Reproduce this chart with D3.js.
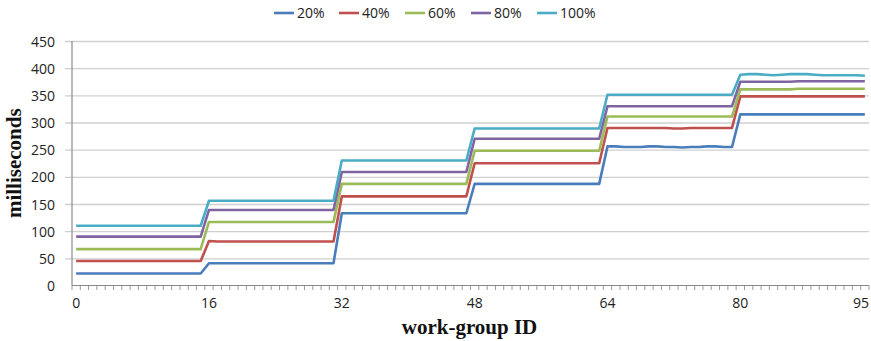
<!DOCTYPE html>
<html>
<head>
<meta charset="utf-8">
<script src="https://cdn.jsdelivr.net/npm/d3@7"></script>
<style>
  html, body { margin: 0; padding: 0; background: #fff; }
  svg { display: block; }
</style>
</head>
<body>
<svg id="chart" width="871" height="341"></svg>
<script>
// Work-group IDs 0..95
const workGroups = d3.range(96);

const seriesNames = ["20%", "40%", "60%", "80%", "100%"];
const seriesColors = ["#4A7EBB", "#C0504D", "#9BBB59", "#8064A2", "#4BACC6"];

// Execution time (milliseconds) per work-group, one array per series
const ms20 = [
  22,22,22,22,22,22,22,22,22,22,22,22,22,22,22,22,
  41,41,41,41,41,41,41,41,41,41,41,41,41,41,41,41,
  133,133,133,133,133,133,133,133,133,133,133,133,133,133,133,133,
  187,187,187,187,187,187,187,187,187,187,187,187,187,187,187,187,
  256,256,255,255,255,256,256,255,255,254,255,255,256,256,255,255,
  315,315,315,315,315,315,315,315,315,315,315,315,315,315,315,315
];
const ms40 = [
  45,45,45,45,45,45,45,45,45,45,45,45,45,45,45,45,
  82,81,81,81,81,81,81,81,81,81,81,81,81,81,81,81,
  164,164,164,164,164,164,164,164,164,164,164,164,164,164,164,164,
  225,225,225,225,225,225,225,225,225,225,225,225,225,225,225,225,
  290,290,290,290,290,290,290,290,289,289,290,290,290,290,290,290,
  348,348,348,348,348,348,348,348,348,348,348,348,348,348,348,348
];
const ms60 = [
  67,67,67,67,67,67,67,67,67,67,67,67,67,67,67,67,
  117,117,117,117,117,117,117,117,117,117,117,117,117,117,117,117,
  187,187,187,187,187,187,187,187,187,187,187,187,187,187,187,187,
  248,248,248,248,248,248,248,248,248,248,248,248,248,248,248,248,
  311,311,311,311,311,311,311,311,311,311,311,311,311,311,311,311,
  361,361,361,361,361,361,361,362,362,362,362,362,362,362,362,362
];
const ms80 = [
  90,90,90,90,90,90,90,90,90,90,90,90,90,90,90,90,
  139,139,139,139,139,139,139,139,139,139,139,139,139,139,139,139,
  209,209,209,209,209,209,209,209,209,209,209,209,209,209,209,209,
  270,270,270,270,270,270,270,270,270,270,270,270,270,270,270,270,
  330,330,330,330,330,330,330,330,330,330,330,330,330,330,330,330,
  375,375,375,375,375,375,375,376,376,376,376,376,376,376,376,376
];
const ms100 = [
  110,110,110,110,110,110,110,110,110,110,110,110,110,110,110,110,
  156,156,156,156,156,156,156,156,156,156,156,156,156,156,156,156,
  230,230,230,230,230,230,230,230,230,230,230,230,230,230,230,230,
  289,289,289,289,289,289,289,289,289,289,289,289,289,289,289,289,
  351,351,351,351,351,351,351,351,351,351,351,351,351,351,351,351,
  388,389,389,388,387,388,389,389,389,388,387,387,387,387,387,386
];
const seriesValues = [ms20, ms40, ms60, ms80, ms100];

const yTicks = [0, 50, 100, 150, 200, 250, 300, 350, 400, 450];
const xTickLabels = [0, 16, 32, 48, 64, 80, 95];

const svg = d3.select("#chart");
const plotLeft = 72, plotRight = 869, plotTop = 41, plotBottom = 285.5;

const x = d3.scaleBand().domain(workGroups).range([plotLeft, plotRight]).paddingInner(0).paddingOuter(0);
const xc = d => x(d) + x.bandwidth() / 2;
const y = d3.scaleLinear().domain([0, 450]).range([plotBottom, plotTop]);

const tickFont = "'Open Sans', 'Liberation Sans', sans-serif";

// Horizontal gridlines with short outside tick marks
const yAxis = d3.axisLeft(y).tickValues(yTicks).tickSize(-(plotRight - plotLeft)).tickSizeOuter(0).tickPadding(17).tickFormat(d3.format("d"));
const gy = svg.append("g").attr("transform", `translate(${plotLeft},0)`).call(yAxis);
gy.select(".domain").remove();
gy.selectAll(".tick line").attr("stroke", "#D0D0D0").attr("stroke-width", 1.3).attr("x1", -7);
gy.selectAll(".tick text").attr("font-family", tickFont).attr("font-size", 14).attr("fill", "#222").attr("dy", "0.36em");
gy.selectAll(".tick").filter(d => d === 0).select("line").remove();

// Category axis: minor tick marks at each work-group boundary
const bounds = workGroups.map(d => x(d)).concat([plotRight]);
svg.append("g").selectAll("line").data(bounds).join("line")
  .attr("x1", d => d).attr("x2", d => d)
  .attr("y1", plotBottom).attr("y2", plotBottom + 4.5)
  .attr("stroke", "#9A9A9A").attr("stroke-width", 1);

// Axis lines
svg.append("line").attr("x1", plotLeft).attr("x2", plotRight).attr("y1", plotBottom).attr("y2", plotBottom)
  .attr("stroke", "#8A8A8A").attr("stroke-width", 1.2);
svg.append("line").attr("x1", plotLeft).attr("x2", plotLeft).attr("y1", plotTop).attr("y2", plotBottom)
  .attr("stroke", "#8A8A8A").attr("stroke-width", 1.2);

// Category labels (the last one is kept inside the right edge)
const lastLabel = xTickLabels[xTickLabels.length - 1];
svg.append("g").selectAll("text").data(xTickLabels).join("text")
  .attr("x", d => d === lastLabel ? plotRight : xc(d)).attr("y", 308)
  .attr("text-anchor", d => d === lastLabel ? "end" : "middle")
  .attr("font-family", tickFont).attr("font-size", 14).attr("fill", "#222")
  .text(d => d);

// Series lines
const line = d3.line().x((d, i) => xc(workGroups[i])).y(d => y(d));
svg.append("g").selectAll("path").data(seriesValues).join("path")
  .attr("d", d => line(d))
  .attr("fill", "none")
  .attr("stroke", (d, i) => seriesColors[i])
  .attr("stroke-width", 2.6)
  .attr("stroke-linejoin", "round");

// Legend
const legend = svg.append("g");
const legendX = [274, 339, 405, 471, 537];
seriesNames.forEach((name, i) => {
  const g = legend.append("g").attr("transform", `translate(${legendX[i]},13)`);
  g.append("line").attr("x1", 0).attr("x2", 20).attr("y1", 0).attr("y2", 0)
    .attr("stroke", seriesColors[i]).attr("stroke-width", 2.6);
  g.append("text").attr("x", 23).attr("y", 5)
    .attr("font-family", tickFont).attr("font-size", 14).attr("fill", "#222")
    .text(name);
});

// Axis titles
svg.append("text")
  .attr("x", (plotLeft + plotRight) / 2 - 1).attr("y", 334)
  .attr("text-anchor", "middle")
  .attr("font-family", "'Liberation Serif', 'Times New Roman', serif")
  .attr("font-weight", "bold").attr("font-size", 21).attr("fill", "#111")
  .text("work-group ID");

svg.append("text")
  .attr("transform", `translate(21,${(plotTop + plotBottom) / 2}) rotate(-90)`)
  .attr("text-anchor", "middle")
  .attr("font-family", "'Liberation Serif', 'Times New Roman', serif")
  .attr("font-weight", "bold").attr("font-size", 21).attr("fill", "#111")
  .text("milliseconds");
</script>
</body>
</html>
